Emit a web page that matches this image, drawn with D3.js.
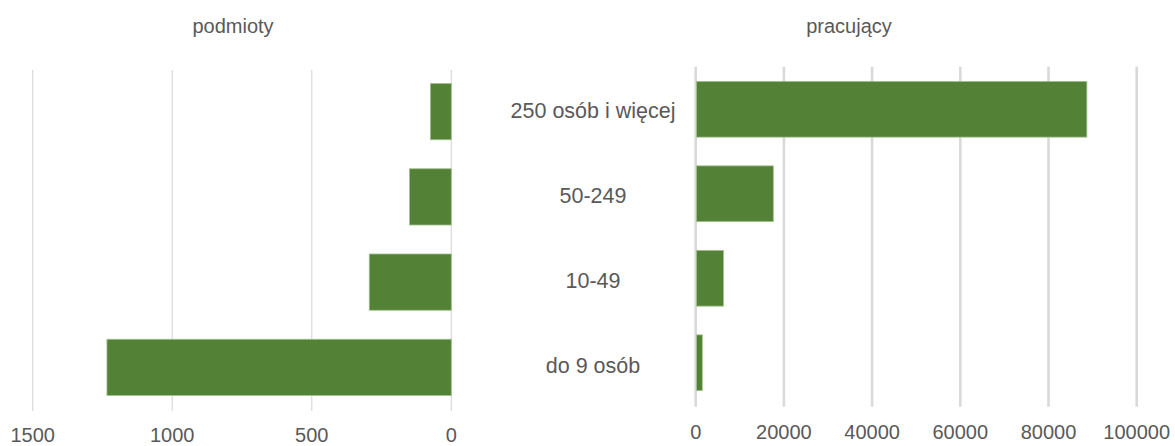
<!DOCTYPE html>
<html>
<head>
<meta charset="utf-8">
<script src="https://cdn.jsdelivr.net/npm/d3@7"></script>
<style>
  html, body { margin: 0; padding: 0; background: #fff; }
  svg { display: block; }
  text { font-family: "Liberation Sans", Arial, sans-serif; fill: #595959; }
</style>
</head>
<body>
<svg id="chart" width="1175" height="446"></svg>
<script>
const categories = ["250 osób i więcej", "50-249", "10-49", "do 9 osób"];
const podmioty = [75, 150, 294, 1234];
const pracujacy = [88700, 17600, 6300, 1500];
const leftTicks = [0, 500, 1000, 1500];
const rightTicks = [0, 20000, 40000, 60000, 80000, 100000];
const titles = ["podmioty", "pracujący"];

const svg = d3.select("#chart");
const barColor = "#538135";
const gridColor = "#d9d9d9";

// Left panel
const xL = d3.scaleLinear().domain([0, 1500]).range([451.3, 32.7]);
const yL = d3.scaleBand().domain(categories).range([69, 410]).paddingInner(0.34).paddingOuter(0.17);

const gL = svg.append("g");
gL.selectAll("line.grid").data(leftTicks).join("line")
  .attr("x1", d => xL(d)).attr("x2", d => xL(d))
  .attr("y1", 70).attr("y2", 411)
  .attr("stroke", gridColor).attr("stroke-width", 1.2);
gL.selectAll("rect").data(categories).join("rect")
  .attr("x", (d, i) => xL(podmioty[i]))
  .attr("y", d => yL(d))
  .attr("width", (d, i) => xL(0) - xL(podmioty[i]))
  .attr("height", yL.bandwidth())
  .attr("fill", barColor)
  .attr("stroke", "#a3c290").attr("stroke-width", 0.8);
gL.selectAll("text.tick").data(leftTicks).join("text")
  .attr("class", "tick")
  .attr("x", d => xL(d)).attr("y", 442)
  .attr("text-anchor", "middle")
  .attr("font-size", 20)
  .text(d => d);
gL.append("text")
  .attr("x", 233).attr("y", 33)
  .attr("text-anchor", "middle")
  .attr("font-size", 20)
  .text(titles[0]);

// Right panel
const xR = d3.scaleLinear().domain([0, 100000]).range([695.7, 1136.7]);
const yR = d3.scaleBand().domain(categories).range([67, 405]).paddingInner(0.34).paddingOuter(0.17);

const gR = svg.append("g");
gR.selectAll("line.grid").data(rightTicks).join("line")
  .attr("x1", d => xR(d)).attr("x2", d => xR(d))
  .attr("y1", 66.7).attr("y2", 406.7)
  .attr("stroke", gridColor).attr("stroke-width", 2.6);
gR.selectAll("rect").data(categories).join("rect")
  .attr("x", xR(0) + 0.8)
  .attr("y", d => yR(d))
  .attr("width", (d, i) => xR(pracujacy[i]) - xR(0) - 0.8)
  .attr("height", yR.bandwidth())
  .attr("fill", barColor)
  .attr("stroke", "#a3c290").attr("stroke-width", 0.8);
gR.selectAll("text.tick").data(rightTicks).join("text")
  .attr("class", "tick")
  .attr("x", d => xR(d)).attr("y", 439)
  .attr("text-anchor", "middle")
  .attr("font-size", 20)
  .text(d => d);
gR.append("text")
  .attr("x", 849).attr("y", 33)
  .attr("text-anchor", "middle")
  .attr("font-size", 20)
  .text(titles[1]);

// Category labels (between panels)
svg.append("g").selectAll("text").data(categories).join("text")
  .attr("x", 593)
  .attr("y", d => (yL(d) + yR(d)) / 2 + yL.bandwidth() / 2)
  .attr("dy", "0.35em")
  .attr("text-anchor", "middle")
  .attr("font-size", 21.5)
  .text(d => d);
</script>
</body>
</html>
